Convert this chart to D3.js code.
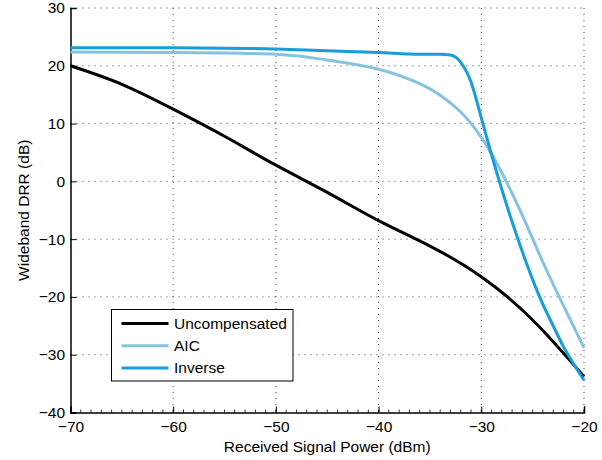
<!DOCTYPE html>
<html>
<head>
<meta charset="utf-8">
<script src="https://cdn.jsdelivr.net/npm/d3@7"></script>
<style>
  body { margin: 0; background: #fff; }
  text { font-family: "Liberation Sans", Arial, Helvetica, sans-serif; }
</style>
</head>
<body>
<div id="figure"></div>
<script>
// received power (dBm) and wideband DRR (dB)
var uncompPower = [-70, -65, -60, -55, -50, -45, -40, -35, -30, -25, -20];
var uncompDRR   = [20, 16.8, 12.5, 7.8, 2.8, -1.9, -6.8, -11.2, -16.5, -24.0, -33.8];

var aicPower = [-70, -60, -50, -45, -40, -36, -34, -32, -30, -28, -26, -24, -22, -20];
var aicDRR   = [22.4, 22.3, 22.0, 21.0, 19.4, 16.9, 14.9, 12.0, 7.6, 1.5, -5.9, -14.0, -21.5, -28.8];

var invPower = [-70, -60, -52.5, -45, -40, -36, -34, -33, -32, -31, -30, -29, -28, -27, -26, -25, -24, -23, -22, -21, -20];
var invDRR   = [23.1, 23.1, 23.0, 22.6, 22.3, 22.0, 22.0, 21.85, 20.6, 17.2, 11.0, 4.6, -1.4, -7.0, -12.2, -17.0, -21.3, -25.0, -28.6, -31.6, -34.4];

var xTicks = [-70, -60, -50, -40, -30, -20];
var yTicks = [-40, -30, -20, -10, 0, 10, 20, 30];

var seriesNames = ["Uncompensated", "AIC", "Inverse"];
var seriesColors = ["#000000", "#86c3e0", "#179ddb"];

const margin = { top: 8, right: 18, bottom: 47.5, left: 70.5 };
const W = 602, H = 460;
var width = W - margin.left - margin.right;
var height = H - margin.top - margin.bottom;
const fs = 15.5;

var svg = d3.select("#figure")
    .append("svg")
    .attr("width", W)
    .attr("height", H)
    .append("g")
    .attr("transform", `translate(${margin.left},${margin.top})`);

var x = d3.scaleLinear().domain([-70, -20]).range([0, width]);
var y = d3.scaleLinear().domain([-40, 30]).range([height, 0]);

// dotted grid
svg.append("g")
    .selectAll("line")
    .data(xTicks.slice(1))
    .join("line")
    .attr("x1", d => x(d)).attr("x2", d => x(d))
    .attr("y1", 0).attr("y2", height)
    .attr("stroke", "#444")
    .attr("stroke-width", 1)
    .attr("stroke-dasharray", "1,5");

svg.append("g")
    .selectAll("line")
    .data(yTicks.slice(1))
    .join("line")
    .attr("x1", 0).attr("x2", width)
    .attr("y1", d => y(d)).attr("y2", d => y(d))
    .attr("stroke", "#444")
    .attr("stroke-width", 1)
    .attr("stroke-dasharray", "1,5");

// minor ticks on bottom axis
svg.append("g")
    .selectAll("line")
    .data(d3.range(-70, -19, 1))
    .join("line")
    .attr("x1", d => x(d)).attr("x2", d => x(d))
    .attr("y1", height).attr("y2", height - 3)
    .attr("stroke", "#000")
    .attr("stroke-width", 0.8);

// axes
var xAxis = svg.append("g")
    .attr("transform", `translate(0,${height})`)
    .call(d3.axisBottom(x).tickValues(xTicks).tickSize(-6).tickPadding(8)
        .tickFormat(d => String(d).replace("-", "\u2212")));

var yAxis = svg.append("g")
    .call(d3.axisLeft(y).tickValues(yTicks).tickSize(-6).tickPadding(5.5)
        .tickFormat(d => String(d).replace("-", "\u2212")));

[xAxis, yAxis].forEach(function (a) {
    a.select(".domain").attr("stroke-width", 1.5);
    a.selectAll(".tick line").attr("stroke-width", 1);
    a.selectAll("text").attr("font-size", fs).attr("fill", "#000");
});

// axis labels
svg.append("text")
    .attr("text-anchor", "middle")
    .attr("x", x(-45))
    .attr("y", height + 39)
    .attr("font-size", fs)
    .text("Received Signal Power (dBm)");

svg.append("text")
    .attr("text-anchor", "middle")
    .attr("transform", `translate(${29 - margin.left},${height / 2}) rotate(-90)`)
    .attr("font-size", fs)
    .text("Wideband DRR (dB)");

// curves
var smooth = d3.line()
    .x(d => x(d[0]))
    .y(d => y(d[1]))
    .curve(d3.curveNatural);

var mono = d3.line()
    .x(d => x(d[0]))
    .y(d => y(d[1]))
    .curve(d3.curveMonotoneX);

var series = [
    d3.zip(uncompPower, uncompDRR),
    d3.zip(aicPower, aicDRR),
    d3.zip(invPower, invDRR)
];

var plot = svg.append("g");
plot.selectAll("path")
    .data(series)
    .join("path")
    .attr("d", (d, i) => i === 2 ? mono(d) : smooth(d))
    .attr("fill", "none")
    .attr("stroke", (d, i) => seriesColors[i])
    .attr("stroke-width", 3)
    .attr("stroke-linejoin", "round");

// legend
var legend = svg.append("g")
    .attr("transform", `translate(${111.5 - margin.left},${309.5 - margin.top})`);

legend.append("rect")
    .attr("width", 181.5)
    .attr("height", 71.5)
    .attr("fill", "#fff")
    .attr("stroke", "#000")
    .attr("stroke-width", 1);

var rows = legend.selectAll("g.row")
    .data(seriesNames)
    .join("g")
    .attr("class", "row")
    .attr("transform", (d, i) => `translate(0,${14 + i * 22.2})`);

rows.append("line")
    .attr("x1", 10).attr("x2", 57)
    .attr("stroke", (d, i) => seriesColors[i])
    .attr("stroke-width", 3);

rows.append("text")
    .attr("x", 62.5)
    .attr("dy", "0.35em")
    .attr("font-size", fs)
    .text(d => d);
</script>
</body>
</html>
